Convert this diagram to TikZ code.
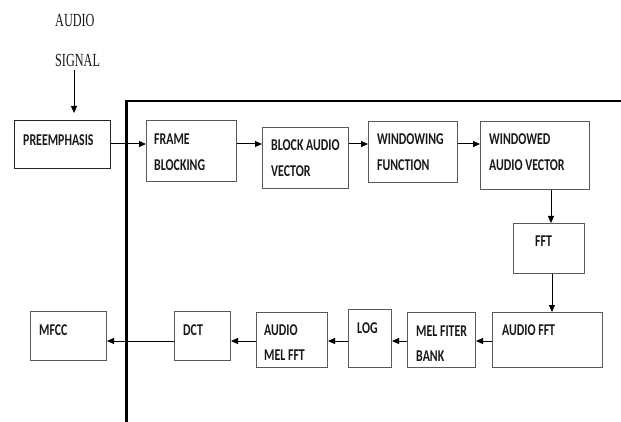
\documentclass[tikz,border=0pt]{standalone}
\usepackage{fontspec}
\usepackage{graphicx}
\usetikzlibrary{arrows.meta}
\newfontfamily\boxfont{Carlito}
\newfontfamily\serfont{Liberation Serif}
\newcommand\lab[1]{\scalebox{0.72}[1]{\boxfont\bfseries\fontsize{16.5}{18}\selectfont\def\arraystretch{1.39}\begin{tabular}[t]{@{}l@{}}#1\end{tabular}}}
\newcommand\slab[1]{\scalebox{0.66}[1]{\serfont\fontsize{18.5}{20}\selectfont #1}}
\begin{document}
\begin{tikzpicture}[x=1pt,y=-1pt,
  blk/.style={draw=black!65, line width=1pt, inner sep=0pt, anchor=north west},
  txt/.style={inner sep=0pt, anchor=base west, text=black!90},
  arr/.style={line width=1pt, -{Triangle[length=7pt,width=6pt]}},
  thick frame/.style={line width=2.2pt}]
\useasboundingbox (0,0) rectangle (621,422);
\fill[white] (0,0) rectangle (621,422);
% boxes
\node[blk, draw=black!85, line width=1.3pt, minimum width=96pt, minimum height=48pt] (pre) at (14,120) {};
\node[blk, minimum width=90pt, minimum height=61pt] (frame) at (146,120) {};
\node[blk, minimum width=86pt, minimum height=61pt] (block) at (262,127) {};
\node[blk, minimum width=89pt, minimum height=61pt] (win) at (368,121) {};
\node[blk, minimum width=109pt, minimum height=68pt] (wav) at (480,121) {};
\node[blk, minimum width=71pt, minimum height=50pt] (fft) at (513,223) {};
\node[blk, minimum width=110pt, minimum height=55pt] (afft) at (492,312) {};
\node[blk, minimum width=68pt, minimum height=55pt] (mel) at (407,312) {};
\node[blk, minimum width=43pt, minimum height=58pt] (log) at (348,309) {};
\node[blk, minimum width=71pt, minimum height=55pt] (amel) at (256,312) {};
\node[blk, minimum width=56pt, minimum height=49pt] (dct) at (174,311) {};
\node[blk, minimum width=76pt, minimum height=49pt] (mfcc) at (30,311) {};
% labels
\node[txt] (audio) at (55,27) {\slab{AUDIO}};
\node[txt] (signal) at (55,67) {\slab{SIGNAL}};
\node[txt] (tpre) at (23,145.5) {\lab{PREEMPHASIS}};
\node[txt] (tframe) at (154,145) {\lab{FRAME\\BLOCKING}};
\node[txt] (tblock) at (271,151) {\lab{BLOCK AUDIO\\VECTOR}};
\node[txt] (twin) at (377,145) {\lab{WINDOWING\\FUNCTION}};
\node[txt] (twav) at (489,145) {\lab{WINDOWED\\AUDIO VECTOR}};
\node[txt] (tfft) at (535,247) {\lab{FFT}};
\node[txt] (tafft) at (502,335) {\lab{AUDIO FFT}};
\node[txt] (tmel) at (416,336) {\lab{MEL FITER\\BANK}};
\node[txt] (tlog) at (357,333) {\lab{LOG}};
\node[txt] (tamel) at (264,335) {\lab{AUDIO\\MEL FFT}};
\node[txt] (tdct) at (183,335) {\lab{DCT}};
\node[txt] (tmfcc) at (39,335) {\lab{MFCC}};
% frame line
\draw[thick frame] (126.5,422) -- (126.5,101) -- (621,101);
% connectors
\coordinate (sigtop) at (74,70);
\coordinate (sigtip) at (74,113);
\coordinate (row1) at (0,144);
\coordinate (row2) at (0,341);
\coordinate (col1) at (551,0);
\coordinate (col2) at (552,0);
\draw[arr] (sigtop) -- (sigtip);
\draw[arr] (pre.east |- row1) -- (frame.west |- row1);
\draw[arr] (frame.east |- row1) -- (block.west |- row1);
\draw[arr] (block.east |- row1) -- (win.west |- row1);
\draw[arr] (win.east |- row1) -- (wav.west |- row1);
\draw[arr] (wav.south -| col1) -- (fft.north -| col1);
\draw[arr] (fft.south -| col2) -- (afft.north -| col2);
\draw[arr] (afft.west |- row2) -- (mel.east |- row2);
\draw[arr] (mel.west |- row2) -- (log.east |- row2);
\draw[arr] (log.west |- row2) -- (amel.east |- row2);
\draw[arr] (amel.west |- row2) -- (dct.east |- row2);
\draw[arr] (dct.west |- row2) -- (mfcc.east |- row2);
\end{tikzpicture}
\end{document}
